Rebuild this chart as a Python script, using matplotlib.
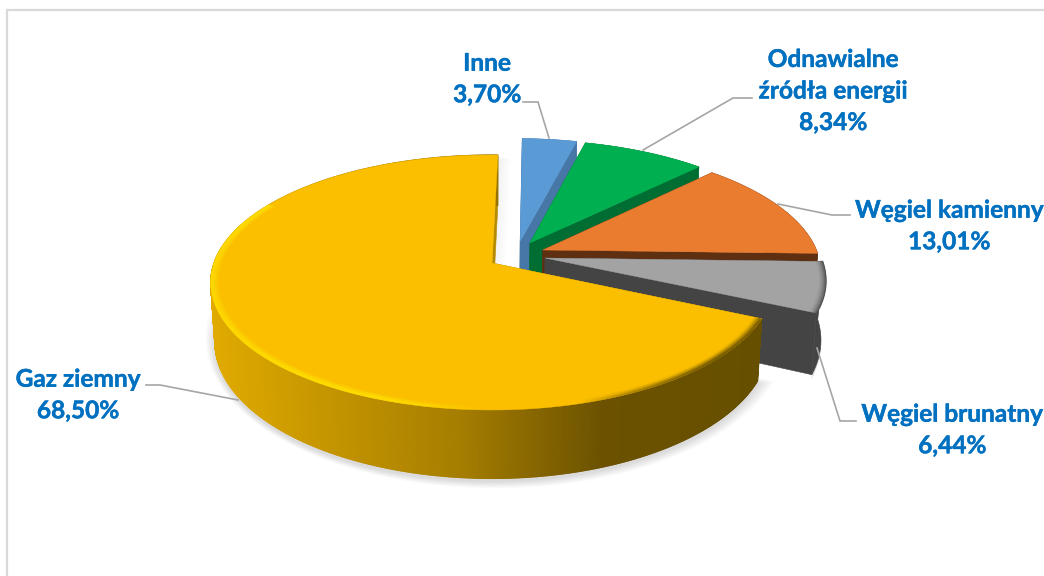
import numpy as np
import matplotlib
matplotlib.use("Agg")
import matplotlib.pyplot as plt
import matplotlib.patheffects as pe
from matplotlib.colors import LinearSegmentedColormap
from matplotlib.collections import PolyCollection, LineCollection
from matplotlib.patches import Rectangle

categories = ["Inne", "Odnawialne\nźródła energii", "Węgiel kamienny", "Węgiel brunatny", "Gaz ziemny"]
values = [3.70, 8.34, 13.01, 6.44, 68.50]

top_colors = ["#5b9bd5", "#00b050", "#ea7c30", "#a3a3a3", "#fbbf00"]
face_colors = ["#4677a6", "#006e32", "#5e2f10", "#444444", "#b58a00"]
wall_colors = ["#4677a6", "#006e32", "#5e2f10", "#444444", None]
explode = [(0.104, -0.18), (0.14, -0.165), (0.186, -0.106), (0.192, -0.04), (0.0, 0.0)]
label_pos = [(487, 79), (833, 91), (949, 226), (952, 430), (78, 395)]
leaders = [
    [(523, 102), (538, 102), (549, 138)],
    [(752, 98), (733, 98), (643, 150)],
    [(850, 215), (832, 215), (778, 204)],
    [(856, 421), (840, 421), (817, 348)],
    [(146, 385), (160, 385), (238, 400)],
]

START = 1.4
CX, CY, A, B, K, H = 492.0, 263.0, 124.5, 278.0, 0.153, 58.0
TEXT_BLUE = "#0070c0"

wall_cmap = LinearSegmentedColormap.from_list(
    "wall", [(0.0, "#e0aa00"), (0.45, "#a67e00"), (0.72, "#6b5100"), (1.0, "#665000")])


def proj(u, v, lower=False):
    u, v = np.asarray(u, float), np.asarray(v, float)
    w = 1 - K * v
    x = CX + B * u / w
    y = CY + A * v / w
    if lower:
        x = CX + (x - CX) * 0.985
        y = y + H / w
    return x, y


def arc(b0, b1, off, r=1.0, n=160):
    t = np.radians(np.linspace(b0, b1, n))
    return r * np.sin(t) + off[0], -r * np.cos(t) + off[1]


fig = plt.figure(figsize=(10.44, 5.76), dpi=100)
ax = fig.add_axes([0, 0, 1, 1])
ax.set_xlim(0, 1044)
ax.set_ylim(576, 0)
ax.axis("off")
ax.add_patch(Rectangle((7, 10), 1100, 640, fc="white", ec="#d9d9d9", lw=1.6, zorder=0))

total = sum(values)
sweeps = [v / total * 360 for v in values]
edges = START + np.concatenate([[0], np.cumsum(sweeps)])

# soft shadows under the two front slices (front arcs only)
shadow_spans = [(edges[3], edges[4], explode[3]), (edges[4], edges[4] + 185, explode[4])]
for b0, b1, off in shadow_spans:
    u, v = arc(b0, b1, off)
    x, y = proj(u, v, lower=True)
    mx, my = x.mean(), y.mean()
    for g in np.linspace(14, 1, 9):
        sx = 1 + g / 300
        sy = 1 + g / 150
        ax.fill(mx + (x - mx) * sx, my + (y - my) * sy + 3, color="#000000", alpha=0.016, lw=0, zorder=1)
# faint shadow next to the back edge of the large slice, apex included
tu, tv = arc(edges[4], edges[5], explode[4])
tx, ty = proj(tu, tv)
apex_x, apex_y = proj(explode[4][0], explode[4][1])
sx_ = np.concatenate([[apex_x], tx])
sy_ = np.concatenate([[apex_y], ty])
for g in np.linspace(14, 1, 14):
    ax.fill(sx_ + g, sy_ + g * 0.3, color="#000000", alpha=0.003, lw=0, zorder=1)

z = 2
for i in range(len(values)):
    off = explode[i]
    b0, b1 = edges[i], edges[i + 1]
    au, av = arc(b0, b1, off, n=900 if i == 4 else 160)
    ax0, ay0 = proj(off[0], off[1])
    ax1, ay1 = proj(off[0], off[1], lower=True)
    tx, ty = proj(au, av)
    lx, ly = proj(au, av, lower=True)
    # radial faces
    for j in (0, -1):
        ax.fill([ax0, tx[j], lx[j], ax1], [ay0, ty[j], ly[j], ay1], color=face_colors[i], lw=0.4, zorder=z)
    # outer wall
    if wall_colors[i] is None:
        quads = [[(tx[k], ty[k]), (tx[k + 1], ty[k + 1]), (lx[k + 1], ly[k + 1]), (lx[k], ly[k])]
                 for k in range(len(tx) - 1)]
        mid = np.array([(tx[k] + lx[k]) / 2 for k in range(len(tx) - 1)])
        shades = np.clip((mid - 213) / (757 - 213), 0, 1)
        cols = wall_cmap(shades)
        ax.add_collection(PolyCollection(quads, facecolors=cols, edgecolors=cols, linewidths=0.8, zorder=z))
    else:
        ax.fill(np.concatenate([tx, lx[::-1]]), np.concatenate([ty, ly[::-1]]),
                color=wall_colors[i], lw=0.4, zorder=z)
    # top surface
    ax.fill(np.concatenate([[ax0], tx]), np.concatenate([[ay0], ty]), color=top_colors[i], lw=0.3, zorder=z + 0.2)
    # bevel along the rim
    if i == 4:
        rs = np.linspace(0.998, 0.972, 9)
        for step, r in enumerate(rs[::-1]):
            strength = (step + 1) / len(rs)
            u, v = arc(b0, b1, off, r=r, n=500)
            x, y = proj(u, v)
            segs = np.stack([np.column_stack([x[:-1], y[:-1]]), np.column_stack([x[1:], y[1:]])], axis=1)
            frac = np.clip((x[:-1] - 210) / 547, 0, 1)
            bearing = np.linspace(b0, b1, len(segs))
            cols = np.zeros((len(segs), 4))
            bright = frac < 0.5
            cols[bright, :3] = (1.0, 0.87, 0.0)
            cols[bright, 3] = np.clip((0.5 - frac[bright]) / 0.2, 0, 1) * strength * 0.9
            dark = ~bright
            cols[dark, :3] = (0.40, 0.31, 0.0)
            cols[dark, 3] = np.clip((frac[dark] - 0.68) / 0.25, 0, 1) * strength ** 2 * 0.9
            cols[bearing > 300, 3] = 0
            ax.add_collection(LineCollection(segs, colors=cols, linewidths=1.0, capstyle="butt", zorder=z + 0.4))
    if i == 3:
        rs = np.linspace(1.0, 0.975, 7)
        for step, r in enumerate(rs[::-1]):
            strength = ((step + 1) / len(rs)) ** 2
            u, v = arc(b0, b1, off, r=r)
            x, y = proj(u, v)
            ax.plot(x, y, color="#444444", alpha=0.8 * strength, lw=1.0, zorder=z + 0.4)
    z += 1

# leader lines and labels
for pts in leaders:
    xs, ys = zip(*pts)
    ax.plot(xs, ys, color="#a6a6a6", lw=1.2, zorder=20, solid_joinstyle="miter")

for name, val, (x, y) in zip(categories, values, label_pos):
    txt = f"{name}\n{val:.2f}%".replace(".", ",")
    t = ax.text(x, y, txt, ha="center", va="center", color=TEXT_BLUE, fontsize=17.6,
                fontweight="bold", family="Lato", linespacing=1.45, zorder=21)
    t.set_path_effects([pe.withStroke(linewidth=0.3, foreground=TEXT_BLUE)])

fig.savefig("out.png", dpi=100)
